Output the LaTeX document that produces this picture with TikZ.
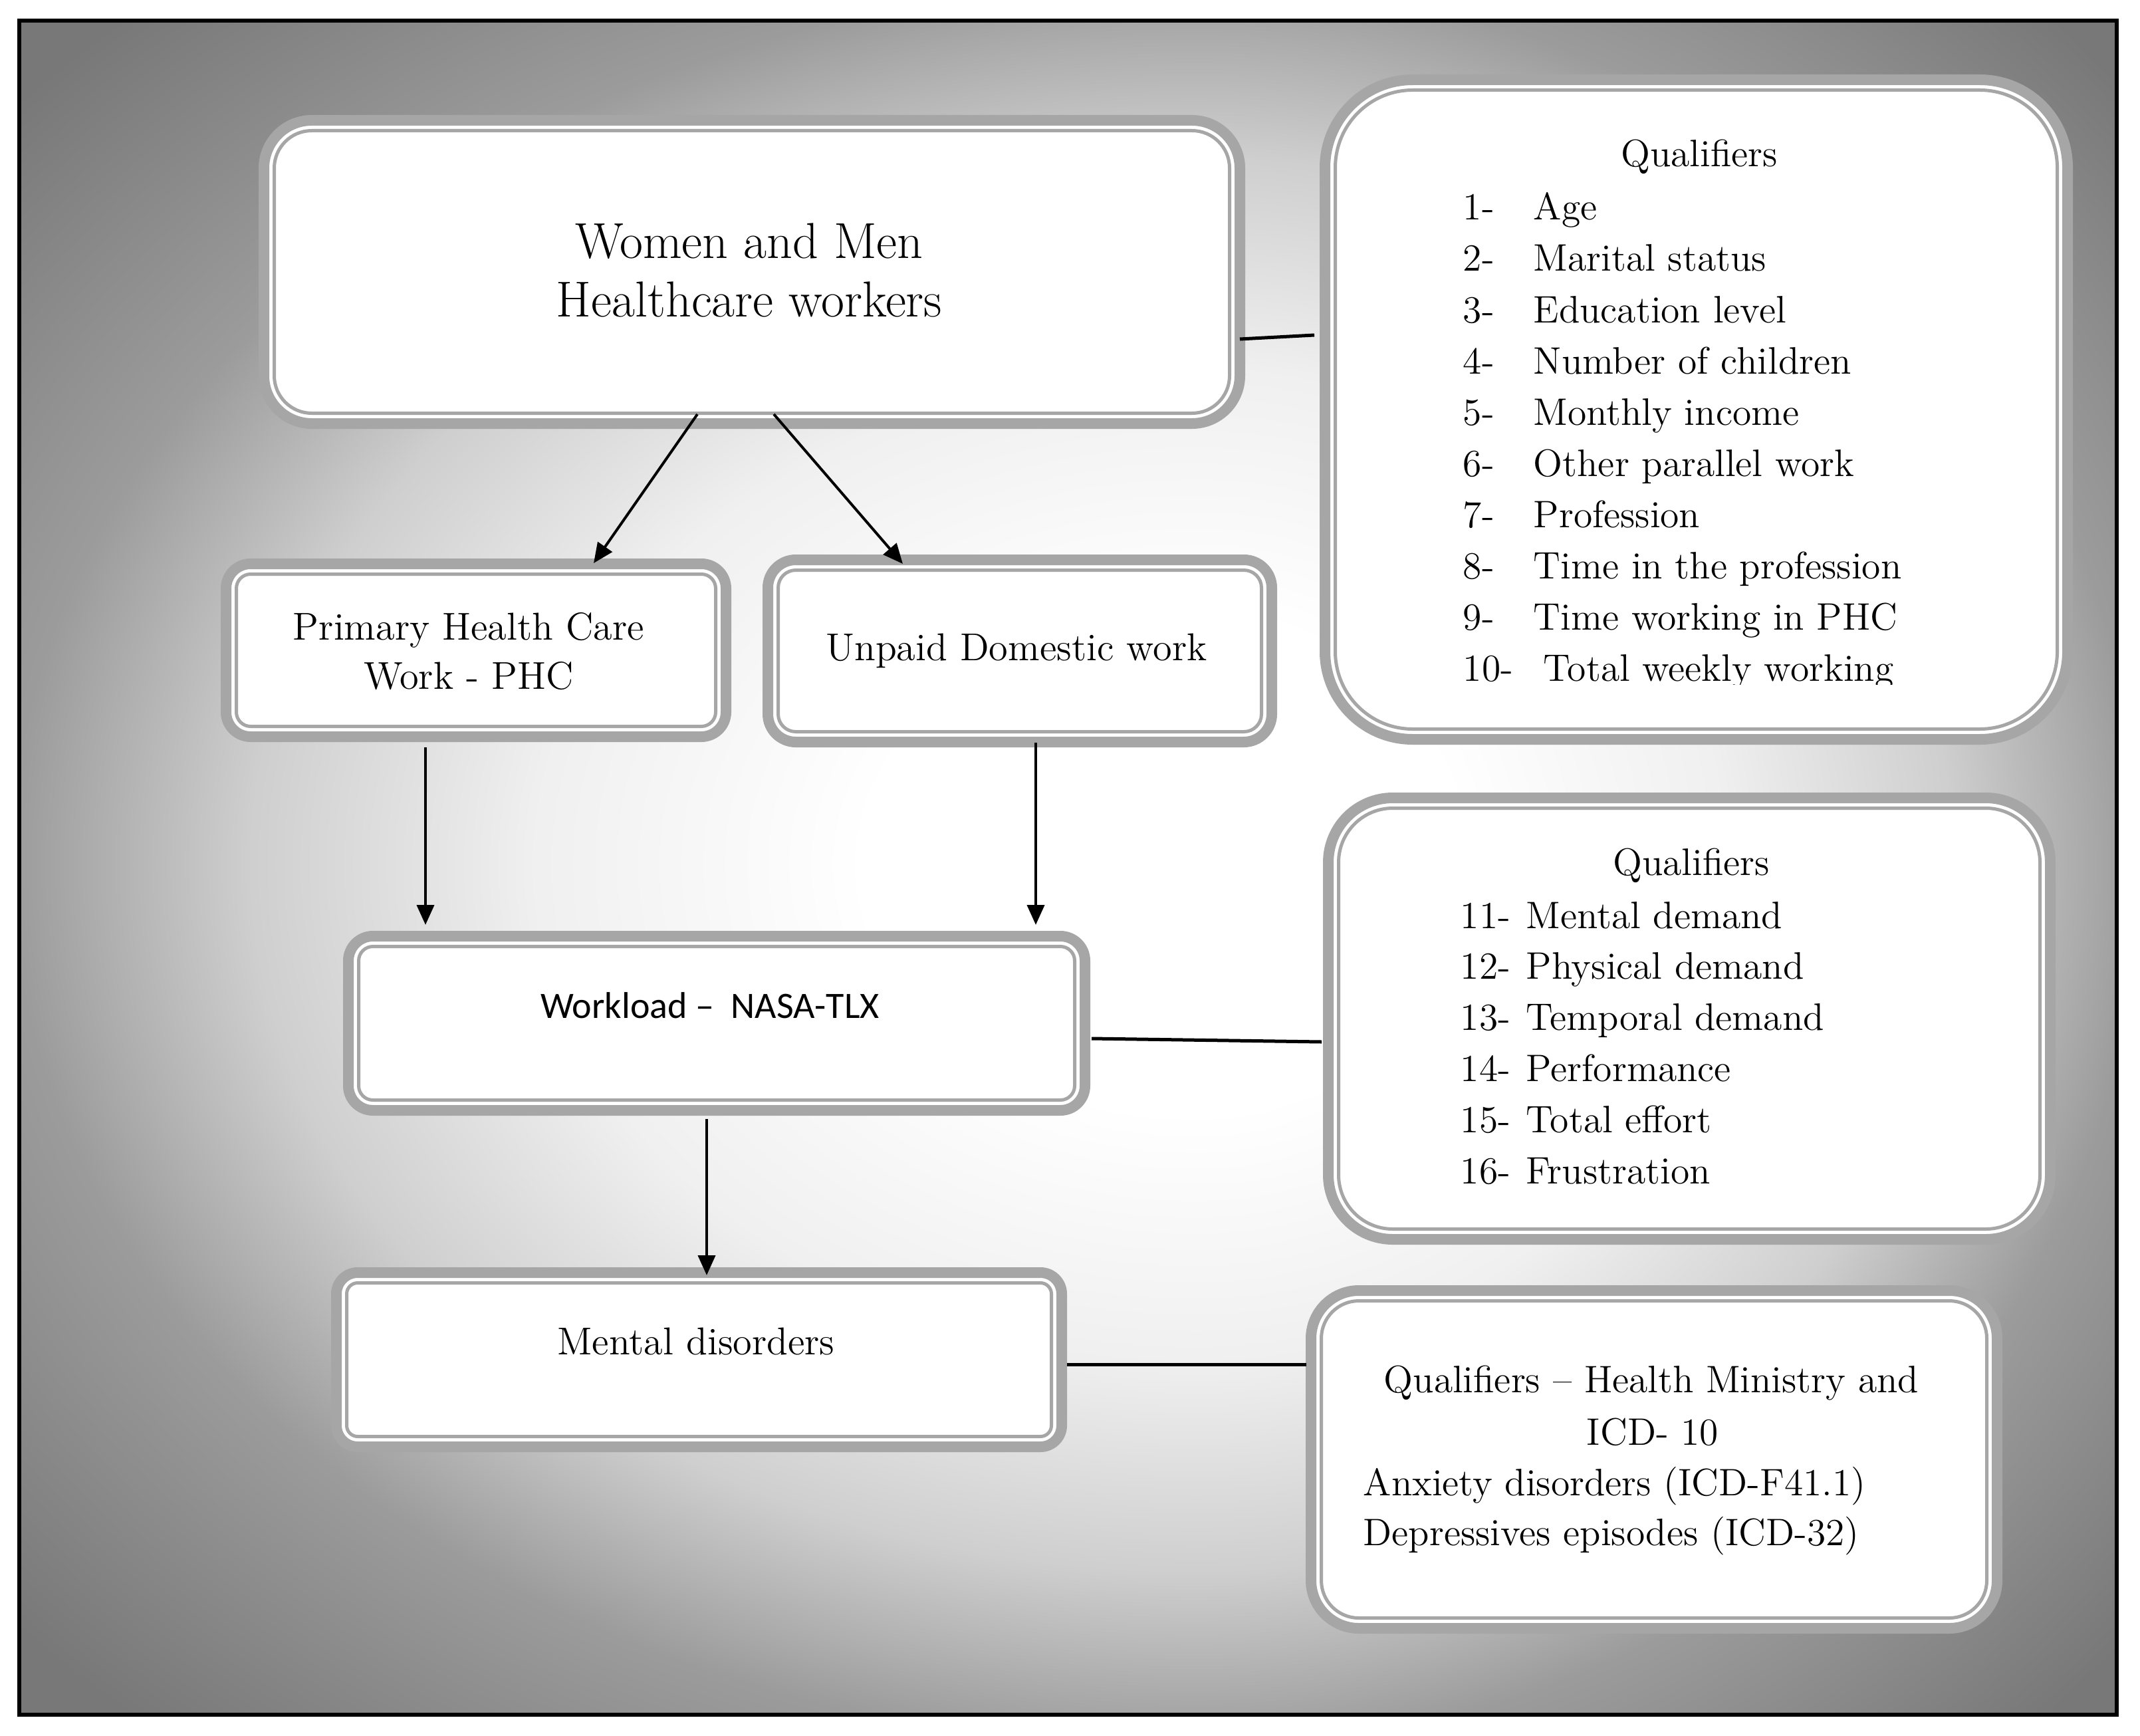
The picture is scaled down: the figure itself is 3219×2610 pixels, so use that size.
\documentclass[tikz,border=0pt]{standalone}
\usepackage{fontspec}
\newfontfamily\calfont{Carlito}
\usetikzlibrary{arrows.meta,calc}
\definecolor{bandgray}{HTML}{A6A6A6}
\definecolor{bgA}{gray}{1}
\definecolor{bgB}{gray}{0.94}
\definecolor{bgC}{gray}{0.81}
\definecolor{bgD}{gray}{0.61}
\definecolor{bgE}{gray}{0.47}
\pgfdeclareradialshading{bgshade}{\pgfpoint{0bp}{0bp}}{color(0bp)=(bgA); color(7bp)=(bgA); color(14bp)=(bgB); color(20bp)=(bgC); color(25bp)=(bgD); color(33bp)=(bgE); color(50bp)=(bgE)}
\tikzset{
  gbox/.style={draw=bandgray, line width=4pt, fill=white, inner sep=0pt},
  qtxt/.style={inner sep=0pt, font=\fontsize{14.4pt}{18pt}\selectfont},
  btxt/.style={inner sep=0pt, align=center, font=\fontsize{14.6pt}{18.5pt}\selectfont},
  wtxt/.style={inner sep=0pt, align=center, font=\fontsize{19pt}{22pt}\selectfont},
  arr/.style={line width=1pt, -{Triangle[length=7.5pt,width=6.5pt]}},
  lnk/.style={line width=1.25pt},
}
% name, x1, y1, x2, y2, outer radius (units of 0.25pt)
\newcommand\gbox[6]{%
  \pgfmathsetmacro\gbw{(#4-#2)*0.25-4}%
  \pgfmathsetmacro\gbh{(#5-#3)*0.25-4}%
  \pgfmathsetmacro\gbr{#6*0.25-2}%
  \pgfmathsetmacro\gbri{#6*0.25-5.875}%
  \node[gbox, minimum width=\gbw pt, minimum height=\gbh pt, rounded corners=\gbr pt] (#1) at ({(#2+#4)/2},{(#3+#5)/2}) {};
  \draw[bandgray, line width=1.25pt, rounded corners=\gbri pt] ([xshift=5.875pt,yshift=5.875pt]#1.south west) rectangle ([xshift=-5.875pt,yshift=-5.875pt]#1.north east);
}
\begin{document}
\begin{tikzpicture}[x=0.25pt, y=-0.25pt]
\useasboundingbox (0,0) rectangle (3219,2610);
% background: off-centre radial gradient, steeper on the right
\begin{scope}
  \clip (29,31) rectangle (1801,2579);
  \shade[shading=bgshade] (20,-30) rectangle (3580,2630);
\end{scope}
\begin{scope}
  \clip (1799,31) rectangle (3184,2579);
  \shade[shading=bgshade] (380,-30) rectangle (3220,2630);
\end{scope}
\draw[line width=1.5pt] (29,31) rectangle (3184,2579);

% boxes
\gbox{w}{389}{173}{1873}{645}{80}
\gbox{q1}{1985}{112}{3118}{1120}{140}
\gbox{p}{332}{840}{1100}{1116}{45}
\gbox{u}{1147}{834}{1921}{1124}{50}
\gbox{wl}{516}{1400}{1640}{1678}{45}
\gbox{q2}{1990}{1192}{3092}{1872}{105}
\gbox{m}{498}{1906}{1605}{2184}{40}
\gbox{q3}{1964}{1933}{3012}{2457}{80}

% texts
\node[wtxt] (wt) at (1127,406) {Women and Men\\Healthcare workers};
\node[btxt] (pt) at (705,980) {Primary Health Care\\Work - PHC};
\node[btxt] (ut) at (1529,979) {Unpaid Domestic work};
\node[inner sep=0pt, anchor=base, font=\calfont\fontsize{14pt}{16pt}\selectfont] (wlt) at (1068,1531) {Workload –~ NASA-TLX};
\node[btxt, anchor=base] (mt) at (1047,2037) {Mental disorders};

\node[qtxt, anchor=base] (q1t) at (2556,251) {Qualifiers};
\foreach \t [count=\i] in {Age,Marital status,Education level,Number of children,Monthly income,Other parallel work,Profession,Time in the profession,Time working in PHC}
  \node[qtxt, anchor=base west] (q1i\i) at (2200,{331+77*(\i-1)}) {\makebox[26.5pt][l]{\i-}\t};
\begin{scope}
  \clip (1985,112) rectangle (3118,1029);
  \node[qtxt, anchor=base west] (q1i10) at (2200,1024) {\makebox[26.5pt][l]{10-}\hspace{3.75pt}Total weekly working};
\end{scope}

\node[qtxt, anchor=base] (q2t) at (2544,1316) {Qualifiers};
\foreach \t [count=\i from 11] in {Mental demand,Physical demand,Temporal demand,Performance,Total effort,Frustration}
  \node[qtxt, anchor=base west] (q2i\i) at (2196,{1396+76.8*(\i-11)}) {\makebox[24.75pt][l]{\i-}\t};

\node[qtxt, anchor=base] (q3a) at (2484,2094) {Qualifiers – Health Ministry and};
\node[qtxt, anchor=base] (q3b) at (2486,2173) {ICD- 10};
\node[qtxt, anchor=base west] (q3c) at (2050,2249) {Anxiety disorders (ICD-F41.1)};
\node[qtxt, anchor=base west] (q3d) at (2050,2324) {Depressives episodes (ICD-32)};

% connectors
\draw[arr] ($(w.south)+(-82,-22)$) -- ($(p.north)+(177,7)$);
\draw[arr] ($(w.south)+(33,-22)$) -- ($(u.north)+(-176,14)$);
\draw[arr] ($(p.south)+(-76,8)$) -- ($(wl.north)+(-438,-9)$);
\draw[arr] ($(u.south)+(24,-7)$) -- ($(wl.north)+(480,-9)$);
\draw[arr] ($(wl.south)+(-15,5)$) -- ($(m.north)+(11.5,12)$);
\draw[lnk] ($(w.east)+(-8,101)$) -- ($(q1.west)+(-8,-112)$);
\draw[lnk] ($(wl.east)+(2,23)$) -- ($(q2.west)+(-2,35)$);
\draw[lnk] ($(m.east)+(0,7)$) -- ($(q3.west)+(1,-143)$);
\end{tikzpicture}
\end{document}
